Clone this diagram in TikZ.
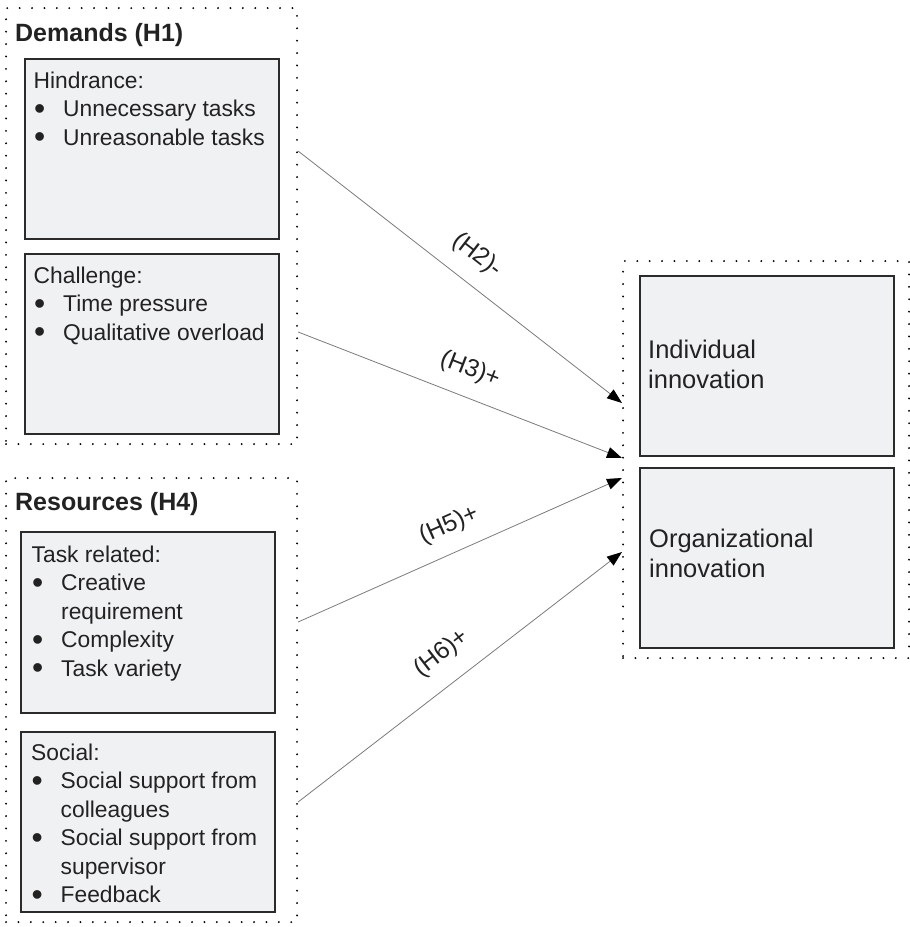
\documentclass[tikz,border=0pt]{standalone}
\usepackage{fontspec}
\setmainfont{Liberation Sans}
\usetikzlibrary{arrows.meta}
\definecolor{boxfill}{HTML}{F0F1F3}
\definecolor{boxline}{HTML}{2B2B2B}
\definecolor{arrline}{HTML}{7A7A7A}
\definecolor{txt}{HTML}{222222}
\newcommand\mybullet{\raisebox{-2.8pt}{\scalebox{1.4}{\textbullet}}}
\newcommand\bul[1]{\hbox{\makebox[29.5pt][l]{\hspace{0.5pt}\mybullet}#1}}
\newcommand\cont[1]{\hbox{\hspace*{29.5pt}#1}}
\newcommand\pl[1]{\hbox{#1}}
\begin{document}
\begin{tikzpicture}[x=1pt,y=-1pt,
  dotbox/.style={draw=black, line width=2.1pt, dash pattern=on 0pt off 12.4pt, line cap=round, rectangle, inner sep=0pt, anchor=north west},
  innerbox/.style={draw=boxline, fill=boxfill, line width=2.3pt, rectangle, inner sep=0pt, anchor=north west, minimum width=254pt, minimum height=180pt},
  heading/.style={font=\fontsize{25}{30}\selectfont\bfseries, text=txt, anchor=base west, inner sep=0pt},
  body/.style={font=\fontsize{22.8}{28.5}\selectfont, text=txt, anchor=base west, inner sep=0pt},
  outtext/.style={font=\fontsize{25.5}{30.5}\selectfont, text=txt, anchor=base west, inner sep=0pt},
  hyp/.style={draw=arrline, line width=0.8pt, -{Triangle[length=15pt,width=11pt,color=black]}},
  hlabel/.style={font=\fontsize{24.5}{28}\selectfont, text=txt, sloped, inner sep=0pt, pos=0.5}
]
\useasboundingbox (0,0) rectangle (910,927);

% outer dotted groups
\node[dotbox, minimum width=291pt, minimum height=436pt] (demands) at (5,7) {};
\node[dotbox, minimum width=291pt, minimum height=444pt] (resources) at (5,477) {};
\node[dotbox, minimum width=286pt, minimum height=397pt] (outcomes) at (622,260) {};

% headings
\node[heading] (demh) at (15,41) {Demands (H1)};
\node[heading] (resh) at (15,510) {Resources (H4)};

% inner boxes
\node[innerbox] (hind) at (24,58) {};
\node[innerbox] (chal) at (24,253) {};
\node[innerbox, minimum height=181pt] (task) at (20,531) {};
\node[innerbox] (soc) at (20,731) {};
\node[innerbox] (indiv) at (639,275) {};
\node[innerbox] (org) at (639,467) {};

% box texts
\node[body] (hindt) at (33.5,88) {\vtop{\pl{Hindrance:}\bul{Unnecessary tasks}\bul{Unreasonable tasks}}};
\node[body] (chalt) at (33.5,283) {\vtop{\pl{Challenge:}\bul{Time pressure}\bul{Qualitative overload}}};
\node[body] (taskt) at (31.5,562) {\vtop{\pl{Task related:}\bul{Creative}\cont{requirement}\bul{Complexity}\bul{Task variety}}};
\node[body] (soct) at (31,760) {\vtop{\pl{Social:}\bul{Social support from}\cont{colleagues}\bul{Social support from}\cont{supervisor}\bul{Feedback}}};
\node[outtext] (indivt) at (648,358) {\vtop{\pl{Individual}\pl{innovation}}};
\node[outtext] (orgt) at (649,547) {\vtop{\pl{Organizational}\pl{innovation}}};

% connector end points
\coordinate (s2) at (demands.east |- 0,151);
\coordinate (s3) at (demands.east |- 0,332);
\coordinate (s5) at (resources.east |- 0,622);
\coordinate (s6) at (resources.east |- 0,802);
\coordinate (e2) at (outcomes.west |- 0,403);
\coordinate (e3) at (outcomes.west |- 0,458);
\coordinate (e5) at (outcomes.west |- 0,478);
\coordinate (e6) at (outcomes.west |- 0,552);

\draw[hyp] (s2) -- node[hlabel, above=15.8pt] (l2) {(H2)-} (e2);
\draw[hyp] (s3) -- node[hlabel, above=15.6pt] (l3) {(H3)+} (e3);
\draw[hyp] (s5) -- node[hlabel, above=15.3pt] (l5) {(H5)+} (e5);
\draw[hyp] (s6) -- node[hlabel, above=17.9pt] (l6) {(H6)+} (e6);
\end{tikzpicture}
\end{document}
